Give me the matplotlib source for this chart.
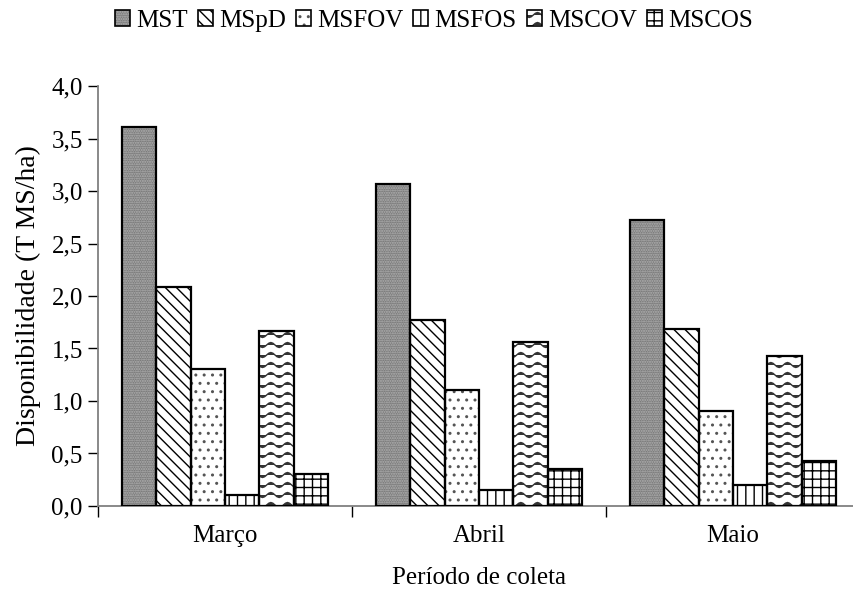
import numpy as np
import matplotlib
matplotlib.use("Agg")
import matplotlib.pyplot as plt
from matplotlib import hatch as mhatch
from matplotlib.path import Path
from matplotlib.patches import Patch

# ---- data ----
categories = ["Março", "Abril", "Maio"]
series = ["MST", "MSpD", "MSFOV", "MSFOS", "MSCOV", "MSCOS"]
MST = [3.61, 3.07, 2.72]
MSpD = [2.09, 1.77, 1.69]
MSFOV = [1.30, 1.10, 0.90]
MSFOS = [0.10, 0.15, 0.20]
MSCOV = [1.67, 1.56, 1.43]
MSCOS = [0.30, 0.35, 0.43]
values = [MST, MSpD, MSFOV, MSFOS, MSCOV, MSCOS]
yticks = [0.0, 0.5, 1.0, 1.5, 2.0, 2.5, 3.0, 3.5, 4.0]
ytick_labels = ["0,0", "0,5", "1,0", "1,5", "2,0", "2,5", "3,0", "3,5", "4,0"]


# ---- custom wavy hatch ('~') ----
class WaveHatch(mhatch.HatchPatternBase):
    def __init__(self, hatch, density):
        self.num_rows = int(hatch.count('~') * density * 0.85)
        self.cycles = 6
        self.pts = self.cycles * 8 + 1
        self.num_vertices = self.num_rows * self.pts

    def set_vertices_and_codes(self, vertices, codes):
        if self.num_rows == 0:
            return
        steps, step = np.linspace(0.0, 1.0, self.num_rows, False, retstep=True)
        steps += step / 2
        x = np.linspace(0.0, 1.0, self.pts)
        amp = step * 0.25
        for i, s in enumerate(steps):
            sl = slice(i * self.pts, (i + 1) * self.pts)
            vertices[sl, 0] = x
            vertices[sl, 1] = s + amp * np.sin(2 * np.pi * self.cycles * x)
            codes[sl] = Path.LINETO
            codes[i * self.pts] = Path.MOVETO


mhatch._hatch_types.append(WaveHatch)

plt.rcParams['font.family'] = ['Liberation Serif', 'DejaVu Serif']
plt.rcParams['hatch.linewidth'] = 1.0
FS = 18

fig = plt.figure(figsize=(8.54, 5.99), dpi=100)
ax = fig.add_axes([0.1148, 0.1553, 0.8923, 0.7011])

styles = [
    dict(face="#7a7a7a", hatch=".......", hcolor="#b4b4b4"),
    dict(face="white", hatch="\\\\\\", hcolor="black"),
    dict(face="white", hatch="..", hcolor="#555555"),
    dict(face="white", hatch="||", hcolor="black"),
    dict(face="white", hatch="~~", hcolor="#333333"),
    dict(face="white", hatch="++", hcolor="black"),
]

n = len(series)
bw = 0.1355
x = np.arange(len(categories)) + 0.5
handles = []
for i, (name, vals, st) in enumerate(zip(series, values, styles)):
    pos = x + (i - (n - 1) / 2) * bw
    ax.bar(pos, vals, bw, facecolor=st["face"], hatch=st["hatch"],
           edgecolor=st["hcolor"], linewidth=0, zorder=2)
    ax.bar(pos, vals, bw, fill=False, edgecolor="black", linewidth=1.6, zorder=3)
    h1 = Patch(facecolor=st["face"], hatch=st["hatch"], edgecolor=st["hcolor"], linewidth=0)
    h2 = Patch(fill=False, edgecolor="black", linewidth=1.2)
    handles.append((h1, h2))

ax.set_xlim(0, 3)
ax.set_ylim(0, 4)
ax.set_yticks(yticks)
ax.set_yticklabels(ytick_labels)
ax.set_xticks([0, 1, 2, 3])
ax.set_xticklabels([])
ax.set_xticks(x, minor=True)
ax.set_xticklabels(categories, minor=True)
ax.tick_params(axis='x', which='minor', length=0, pad=14, labelsize=FS)
ax.tick_params(axis='x', which='major', length=8, width=1, color='black')
ax.tick_params(axis='y', length=7, width=1, pad=4, labelsize=FS)

for s in ['top', 'right']:
    ax.spines[s].set_visible(False)
for s in ['left', 'bottom']:
    ax.spines[s].set_color('#808080')
    ax.spines[s].set_linewidth(1.3)

ax.set_ylabel("Disponibilidade (T MS/ha)", fontsize=20)
ax.yaxis.set_label_coords(-0.075, 0.5)
ax.set_xlabel("Período de coleta", fontsize=FS)
ax.xaxis.set_label_coords(0.5, -0.145)

fig.legend(handles, series, loc='center', bbox_to_anchor=(0.508, 0.965), ncol=6,
           frameon=False, fontsize=FS, handlelength=0.6, handleheight=0.6,
           handletextpad=0.25, columnspacing=0.4)

fig.savefig("out.png", dpi=100)
